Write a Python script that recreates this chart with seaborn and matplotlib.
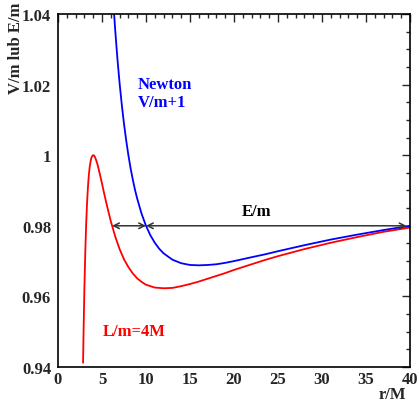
"""
Effective potential: relativistic vs Newtonian, L/m = 4M
"""

import matplotlib
matplotlib.use("Agg")
import matplotlib.pyplot as plt
import seaborn as sns
from matplotlib.ticker import MultipleLocator

# values
r_red = [2.85, 2.9, 3.0, 3.1, 3.2, 3.3, 3.4, 3.5, 3.6, 3.7, 3.8, 3.9, 4.0,
         4.1, 4.2, 4.35, 4.5, 4.75, 5.0, 5.25, 5.5, 5.75, 6.0, 6.5, 7.0,
         7.5, 8.0, 8.5, 9.0, 9.5, 10.0, 11.0, 12.0, 13.0, 14.0, 15.0, 16.0,
         17.0, 18.0, 19.0, 20.0, 22.0, 23.5, 25.0, 28.0, 31.0, 34.0, 37.0,
         40.0]
v_red = [0.9412, 0.9491, 0.9623, 0.9724, 0.9803, 0.9863, 0.9908, 0.9942,
         0.9966, 0.9982, 0.9993, 0.9998, 1.0000, 0.9999, 0.9995, 0.9985,
         0.9973, 0.9947, 0.9920, 0.9891, 0.9864, 0.9838, 0.9813, 0.9770,
         0.9734, 0.9705, 0.9683, 0.9665, 0.9651, 0.9641, 0.9633, 0.9625,
         0.9623, 0.9624, 0.9629, 0.9635, 0.9642, 0.9650, 0.9658, 0.9666,
         0.9675, 0.9691, 0.9703, 0.9714, 0.9734, 0.9752, 0.9768, 0.9783,
         0.9795]

r_blue = [6.3, 6.5, 6.75, 7.0, 7.25, 7.5, 7.75, 8.0, 8.25, 8.5, 8.75, 9.0,
          9.5, 10.0, 10.5, 11.0, 11.5, 12.0, 13.0, 14.0, 15.0, 16.0, 17.0,
          18.0, 19.0, 20.0, 22.0, 23.5, 25.0, 28.0, 31.0, 34.0, 37.0, 40.0]
v_blue = [1.0428, 1.0355, 1.0274, 1.0204, 1.0143, 1.0089, 1.0042, 1.0000,
          0.9963, 0.9931, 0.9902, 0.9877, 0.9834, 0.9800, 0.9773, 0.9752,
          0.9735, 0.9722, 0.9704, 0.9694, 0.9689, 0.9688, 0.9689, 0.9691,
          0.9695, 0.9700, 0.9711, 0.9719, 0.9728, 0.9745, 0.9761, 0.9775,
          0.9788, 0.9800]

energy = 0.98
r_turn = [6.15, 10.0, 40.0]

sns.set_style("white")
plt.rcParams['font.family'] = ['Liberation Serif', 'DejaVu Serif']
plt.rcParams['font.weight'] = 'bold'

fs = 12
fig = plt.figure(figsize=(4.19, 4.02), dpi=100)
ax = fig.add_axes([0.1384, 0.0846, 0.8401, 0.8781])

sns.lineplot(x=r_red, y=v_red, color='#ff0000', lw=1.3, sort=False, ax=ax)
sns.lineplot(x=r_blue, y=v_blue, color='#0000ff', lw=1.3, sort=False, ax=ax)

# turning-point arrows at E/m
ax.annotate('', xy=(r_turn[0], energy), xytext=(r_turn[1], energy),
            arrowprops=dict(arrowstyle='<->', color='#333333', lw=1.1,
                            shrinkA=0, shrinkB=0))
ax.annotate('', xy=(r_turn[1], energy), xytext=(r_turn[2] - 0.4, energy),
            arrowprops=dict(arrowstyle='<->', color='#333333', lw=1.1,
                            shrinkA=0, shrinkB=0))

ax.text(9.1, 1.0202, 'Newton', color='#0000ff', fontsize=fs,
        fontweight='bold', va='center', ha='left')
ax.text(9.1, 1.0152, 'V/m+1', color='#0000ff', fontsize=fs,
        fontweight='bold', va='center', ha='left')
ax.text(5.1, 0.9502, 'L/m=4M', color='#ff0000', fontsize=fs,
        fontweight='bold', va='center', ha='left')
ax.text(22.6, 0.9842, 'E/m', color='black', fontsize=fs,
        fontweight='bold', va='center', ha='center')

ax.set_xlim(0, 40)
ax.set_ylim(0.94, 1.04)
ax.xaxis.set_major_locator(MultipleLocator(5))
ax.xaxis.set_minor_locator(MultipleLocator(1))
ax.yaxis.set_minor_locator(MultipleLocator(0.005))
ax.set_yticks([0.94, 0.96, 0.98, 1.0, 1.02, 1.04])
ax.set_yticklabels(['0.94', '0.96', '0.98', '1', '1.02', '1.04'])
ax.tick_params(which='both', direction='in', top=True, right=True,
               labelsize=fs, width=1)
ax.tick_params(axis='y', pad=5)
ax.tick_params(axis='x', pad=3)
ax.tick_params(which='major', length=6)
ax.tick_params(which='minor', length=3)
for s in ax.spines.values():
    s.set_linewidth(1.2)
    s.set_color('black')

ax.set_xlabel('r/M', fontsize=fs, fontweight='bold', loc='right')
ax.set_ylabel('V/m lub E/m', fontsize=fs, fontweight='bold', loc='top')
ax.xaxis.set_label_coords(0.9886, -0.053)
ax.yaxis.set_label_coords(-0.096, 1.035)

fig.savefig('out.png', dpi=100)
